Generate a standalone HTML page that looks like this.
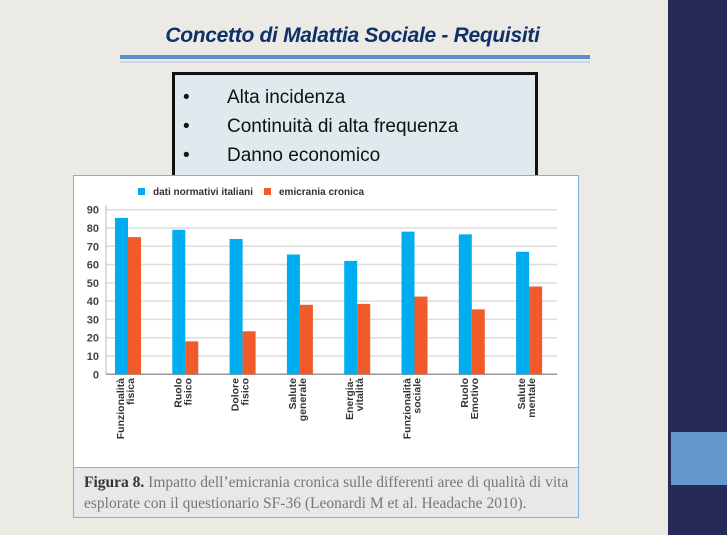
<!DOCTYPE html>
<html><head><meta charset="utf-8"><style>
body{margin:0;width:727px;height:535px;overflow:hidden;background:#ecebe6;font-family:"Liberation Sans",sans-serif;position:relative}
.abs{position:absolute}
</style></head><body>
<div class="abs" style="left:0;top:0;width:668px;height:535px;background:#ebeae5"></div>
<div class="abs" style="left:668px;top:0;width:59px;height:535px;background:#262a56"></div>
<div class="abs" style="left:671px;top:432px;width:56px;height:53px;background:#6399cc"></div>
<div class="abs" style="left:0;width:705px;top:24px;text-align:center;font-size:21px;font-style:italic;font-weight:bold;color:#10306a;letter-spacing:-0.3px">Concetto di Malattia Sociale - Requisiti</div>
<div class="abs" style="left:120px;top:55px;width:470px;height:4px;background:#5b8fcb"></div>
<div class="abs" style="left:120px;top:61px;width:470px;height:2px;background:#c9d6e4"></div>
<div class="abs" style="left:172px;top:72px;width:360px;height:110px;background:#dfeaee;border:3px solid #111;font-size:19px;color:#111">
<div style="position:absolute;left:8px;top:8px;line-height:29px">•<br>•<br>•</div>
<div style="position:absolute;left:52px;top:8px;line-height:29px">Alta incidenza<br>Continuità di alta frequenza<br>Danno economico</div>
</div>
<div class="abs" style="left:73px;top:175px;width:506px;height:343px;background:#fff;border:1px solid #7fb2e0;box-sizing:border-box"></div>
<div class="abs" style="left:74px;top:467px;width:504px;height:50px;background:#e8e8ea;border-top:1px solid #aaa;box-sizing:border-box;font-family:'Liberation Serif',serif;font-size:15.5px;color:#777;padding:4px 0 0 10px;line-height:21px;white-space:nowrap"><b style="color:#333">Figura 8.</b> Impatto dell’emicrania cronica sulle differenti aree di qualità di vita<br>esplorate con il questionario SF-36 (Leonardi M et al. Headache 2010).</div>
<svg class="abs" style="left:0;top:0" width="727" height="535" id="chart"></svg>
<script>
const categories=[["Funzionalità","fisica"],["Ruolo","fisico"],["Dolore","fisico"],["Salute","generale"],["Energia-","vitalità"],["Funzionalità","sociale"],["Ruolo","Emotivo"],["Salute","mentale"]];
const normativi=[85.5,79,74,65.5,62,78,76.5,67];
const cronica=[75,18,23.5,38,38.5,42.5,35.5,48];
const ticks=[0,10,20,30,40,50,60,70,80,90];
const svg=document.getElementById('chart');
const NS='http://www.w3.org/2000/svg';
const y=v=>374.3-v*1.829;
const gx=i=>115+i*57.3;
const bw=13;
function mk(t,a){const e=document.createElementNS(NS,t);for(const k in a)e.setAttribute(k,a[k]);svg.appendChild(e);return e;}
ticks.forEach(t=>{
  if(t>0){const g=mk('line',{x1:106,x2:557,y1:y(t),y2:y(t),stroke:'#ddd','stroke-width':1.5});
  
  }
  const l=mk('text',{x:99,y:y(t)+4,'text-anchor':'end','font-size':11,'font-weight':'bold',fill:'#444'});
  l.textContent=t;
  
  
});
const ax=mk('line',{x1:106,x2:106,y1:205,y2:374.3,stroke:'#bbb'});


const bx=mk('line',{x1:106,x2:557,y1:374.3,y2:374.3,stroke:'#999','stroke-width':1.5});


categories.forEach((c,i)=>{
  const b1=mk('rect',{x:gx(i),y:y(normativi[i]),width:bw,height:normativi[i]*1.829,fill:'#00aeef'});
  
  
  const b2=mk('rect',{x:gx(i)+bw,y:y(cronica[i]),width:bw,height:cronica[i]*1.829,fill:'#f15a29'});
  
  
  const cx=gx(i)+bw;
  const t=mk('text',{transform:`translate(${cx},378) rotate(-90)`,'text-anchor':'end','font-size':10.5,'font-weight':'bold',fill:'#333','font-family':'"Liberation Sans Narrow","Liberation Sans",sans-serif'});
  
  
  c.forEach((s,j)=>{const ts=document.createElementNS(NS,'tspan');ts.setAttribute('x',0);ts.setAttribute('y',j?6:-4);ts.textContent=s;t.appendChild(ts);});
});
const legend=[['dati normativi italiani','#00aeef',138],['emicrania cronica','#f15a29',264]];
legend.forEach(l=>{
  const r=mk('rect',{x:l[2],y:188,width:7,height:7,fill:l[1]});
  
  
  const t=mk('text',{x:l[2]+15,y:195,'font-size':10,'font-weight':'bold',fill:'#333'});
  t.textContent=l[0];
  
  
});
</script>
</body></html>
